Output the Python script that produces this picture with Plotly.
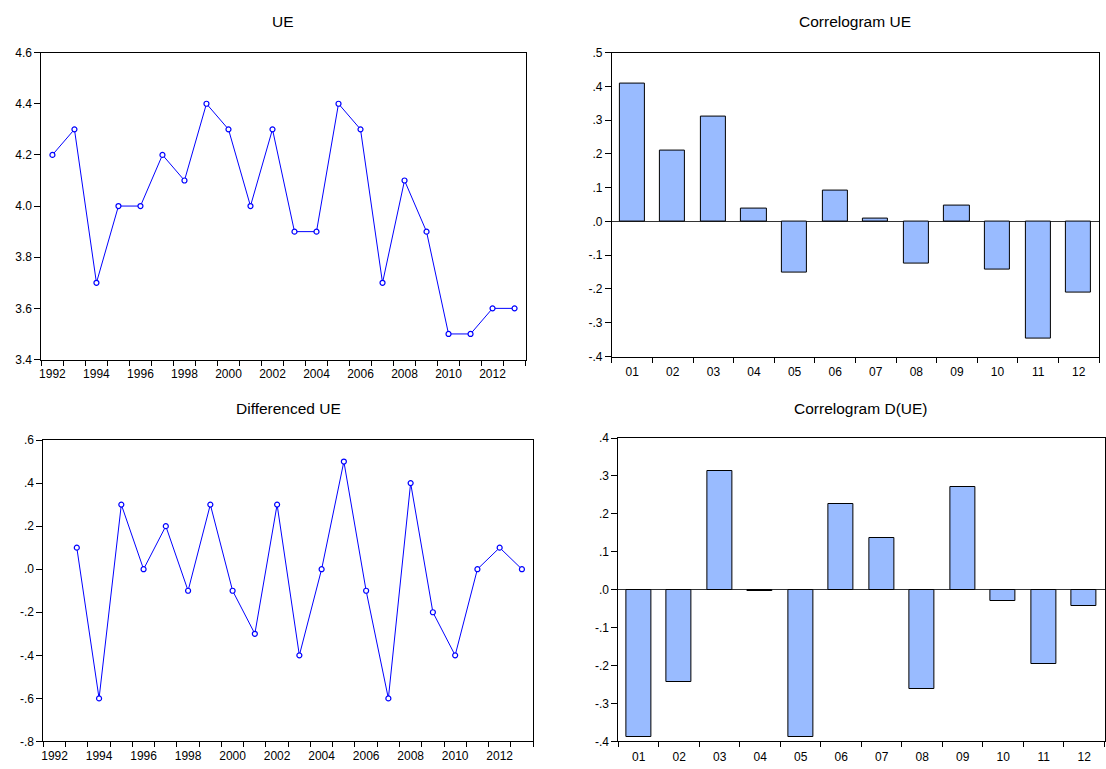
import plotly.graph_objects as go

# ---------------- data ----------------
years = list(range(1992, 2014))
ue = [4.2, 4.3, 3.7, 4.0, 4.0, 4.2, 4.1, 4.4, 4.3, 4.0, 4.3,
      3.9, 3.9, 4.4, 4.3, 3.7, 4.1, 3.9, 3.5, 3.5, 3.6, 3.6]
d_years = list(range(1993, 2014))
d_ue = [0.1, -0.6, 0.3, 0.0, 0.2, -0.1, 0.3, -0.1, -0.3, 0.3,
        -0.4, 0.0, 0.5, -0.1, -0.6, 0.4, -0.2, -0.4, 0.0, 0.1, 0.0]

lags = list(range(1, 13))
lag_labels = ["01", "02", "03", "04", "05", "06", "07", "08", "09", "10", "11", "12"]
acf_ue = [0.407, 0.209, 0.310, 0.037, -0.150, 0.091, 0.008, -0.125, 0.048, -0.142, -0.347, -0.210]
acf_due = [-0.389, -0.242, 0.314, -0.003, -0.387, 0.226, 0.136, -0.261, 0.270, -0.030, -0.196, -0.044]

year_labels = [str(y) for y in range(1992, 2013, 2)]
ue_ticks = [3.4, 3.6, 3.8, 4.0, 4.2, 4.4, 4.6]
ue_ticktext = ["3.4", "3.6", "3.8", "4.0", "4.2", "4.4", "4.6"]
d_ticks = [-0.8, -0.6, -0.4, -0.2, 0.0, 0.2, 0.4, 0.6]
d_ticktext = ["-.8", "-.6", "-.4", "-.2", ".0", ".2", ".4", ".6"]
acf1_ticks = [-0.4, -0.3, -0.2, -0.1, 0.0, 0.1, 0.2, 0.3, 0.4, 0.5]
acf1_ticktext = ["-.4", "-.3", "-.2", "-.1", ".0", ".1", ".2", ".3", ".4", ".5"]
acf2_ticks = [-0.4, -0.3, -0.2, -0.1, 0.0, 0.1, 0.2, 0.3, 0.4]
acf2_ticktext = ["-.4", "-.3", "-.2", "-.1", ".0", ".1", ".2", ".3", ".4"]

# ---------------- layout helpers ----------------
W, H = 1106, 769
FONT = "Liberation Sans, Arial, sans-serif"


def vy(y):
    # compensate for observed vertical rendering offset/scale
    return (y - 7.4) / 0.982


def dx(a, b):
    return [a / W, b / W]


def dy(top, bottom):
    return [1 - vy(bottom) / H, 1 - vy(top) / H]


LINE_BLUE = "#0000FF"
BAR_FILL = "#99BBFF"

fig = go.Figure()

marker = dict(symbol="circle", size=5, color="white", line=dict(color=LINE_BLUE, width=1.2))

fig.add_trace(go.Scatter(x=years, y=ue, mode="lines+markers",
                         line=dict(color=LINE_BLUE, width=1), marker=marker,
                         xaxis="x", yaxis="y", showlegend=False))
fig.add_trace(go.Bar(x=lags, y=acf_ue, width=0.62,
                     marker=dict(color=BAR_FILL, line=dict(color="black", width=1)),
                     xaxis="x2", yaxis="y2", showlegend=False))
fig.add_trace(go.Scatter(x=d_years, y=d_ue, mode="lines+markers",
                         line=dict(color=LINE_BLUE, width=1), marker=marker,
                         xaxis="x3", yaxis="y3", showlegend=False))
fig.add_trace(go.Bar(x=lags, y=acf_due, width=0.62,
                     marker=dict(color=BAR_FILL, line=dict(color="black", width=1)),
                     xaxis="x4", yaxis="y4", showlegend=False))

tickfont = dict(family=FONT, size=12, color="black")


def year_xaxis(domain, anchor):
    return dict(domain=domain, anchor=anchor, range=[1991.5, 2013.5],
                tickmode="array", tickvals=list(range(1992, 2013, 2)), ticktext=year_labels,
                ticks="outside", ticklen=3, tickcolor="rgba(0,0,0,0)",
                minor=dict(tickmode="array", tickvals=[y + 0.5 for y in range(1991, 2014)],
                           ticks="outside", ticklen=5, tickcolor="black", tickwidth=1, showgrid=False),
                showline=True, linecolor="black", linewidth=1, mirror=True,
                showgrid=False, zeroline=False, tickfont=tickfont)


def lag_xaxis(domain, anchor):
    return dict(domain=domain, anchor=anchor, range=[0.5, 12.5],
                tickmode="array", tickvals=lags, ticktext=lag_labels,
                ticks="outside", ticklen=4, tickcolor="rgba(0,0,0,0)",
                minor=dict(tickmode="array", tickvals=[l + 0.5 for l in range(0, 13)],
                           ticks="outside", ticklen=5, tickcolor="black", tickwidth=1, showgrid=False),
                showline=True, linecolor="black", linewidth=1, mirror=True,
                showgrid=False, zeroline=False, tickfont=tickfont)


def val_yaxis(domain, anchor, rng, tv, tt, zero):
    return dict(domain=domain, anchor=anchor, range=rng,
                tickmode="array", tickvals=tv, ticktext=tt,
                ticks="outside", ticklen=6, tickcolor="black", tickwidth=1,
                showline=True, linecolor="black", linewidth=1, mirror=True,
                showgrid=False, zeroline=zero, zerolinecolor="#333333", zerolinewidth=1,
                tickfont=tickfont)


fig.update_layout(
    width=W, height=H, autosize=False,
    margin=dict(l=0, r=0, t=0, b=0),
    paper_bgcolor="white", plot_bgcolor="white",
    font=dict(family=FONT, size=12, color="black"),
    bargap=0,
    xaxis=year_xaxis(dx(39.5, 524.5), "y"),
    yaxis=val_yaxis(dy(53, 360), "x", [3.4, 4.6], ue_ticks, ue_ticktext, False),
    xaxis2=lag_xaxis(dx(611, 1099), "y2"),
    yaxis2=val_yaxis(dy(53, 357), "x2", [-0.4, 0.5], acf1_ticks, acf1_ticktext, True),
    xaxis3=year_xaxis(dx(41.5, 532), "y3"),
    yaxis3=val_yaxis(dy(440.5, 742), "x3", [-0.8, 0.6], d_ticks, d_ticktext, False),
    xaxis4=lag_xaxis(dx(617.5, 1104.5), "y4"),
    yaxis4=val_yaxis(dy(438.5, 742), "x4", [-0.4, 0.4], acf2_ticks, acf2_ticktext, True),
)

titles = [("UE", (39.5 + 524.5) / 2, 22),
          ("Correlogram UE", (611 + 1099) / 2, 22),
          ("Differenced UE", (41.5 + 532) / 2, 409),
          ("Correlogram D(UE)", (617.5 + 1104.5) / 2, 409)]
for text, cx, cy in titles:
    fig.add_annotation(text=text, x=cx / W, y=1 - vy(cy) / H, xref="paper", yref="paper",
                       showarrow=False, xanchor="center", yanchor="middle",
                       font=dict(family=FONT, size=15.5, color="black"))

fig.write_html("out.html",
               config={"displayModeBar": False, "responsive": False},
               post_script="document.body.style.margin='0';document.body.style.padding='0';"
                           "document.body.style.overflow='hidden';")
